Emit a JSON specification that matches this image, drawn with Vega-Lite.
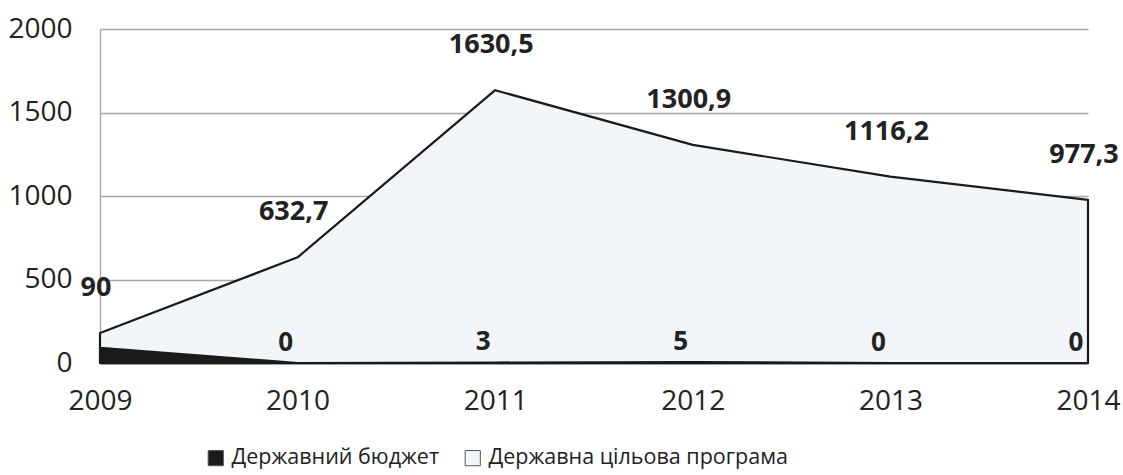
{
  "$schema": "https://vega.github.io/schema/vega-lite/v6.json",
  "width": 988,
  "height": 334,
  "autosize": {"type": "none"},
  "padding": {"left": 100, "top": 29, "right": 35, "bottom": 112},
  "config": {
    "locale": {"number": {"decimal": ",", "thousands": " ", "grouping": [3], "currency": ["", ""]}},
    "view": {"stroke": null},
    "font": "Open Sans"
  },
  "data": {
    "values": [
      {"year": 2009, "series": "Державний бюджет", "ord": 1, "value": 90},
      {"year": 2010, "series": "Державний бюджет", "ord": 1, "value": 0},
      {"year": 2011, "series": "Державний бюджет", "ord": 1, "value": 3},
      {"year": 2012, "series": "Державний бюджет", "ord": 1, "value": 5},
      {"year": 2013, "series": "Державний бюджет", "ord": 1, "value": 0},
      {"year": 2014, "series": "Державний бюджет", "ord": 1, "value": 0},
      {"year": 2009, "series": "Державна цільова програма", "ord": 2, "value": 90},
      {"year": 2010, "series": "Державна цільова програма", "ord": 2, "value": 632.7},
      {"year": 2011, "series": "Державна цільова програма", "ord": 2, "value": 1630.5},
      {"year": 2012, "series": "Державна цільова програма", "ord": 2, "value": 1300.9},
      {"year": 2013, "series": "Державна цільова програма", "ord": 2, "value": 1116.2},
      {"year": 2014, "series": "Державна цільова програма", "ord": 2, "value": 977.3}
    ]
  },
  "transform": [
    {"stack": "value", "groupby": ["year"], "sort": [{"field": "ord", "order": "ascending"}], "as": ["v0", "v1"]}
  ],
  "encoding": {
    "x": {
      "field": "year",
      "type": "quantitative",
      "scale": {"domain": [2009, 2014], "nice": false, "zero": false},
      "axis": {
        "values": [2009, 2010, 2011, 2012, 2013, 2014],
        "format": "d",
        "title": null,
        "labelFontSize": 28,
        "labelColor": "#222222",
        "ticks": false,
        "grid": false,
        "domainColor": "#595959",
        "domainWidth": 2,
        "labelPadding": 24,
        "labelFlush": false,
        "labelOverlap": false
      }
    }
  },
  "layer": [
    {
      "mark": {"type": "area", "stroke": "#1a1a1a", "strokeWidth": 2.2, "strokeJoin": "round"},
      "encoding": {
        "y": {
          "field": "v1",
          "type": "quantitative",
          "scale": {"domain": [0, 2000], "nice": false},
          "axis": {
            "values": [0, 500, 1000, 1500, 2000],
            "format": "d",
            "title": null,
            "labelFontSize": 28,
            "labelColor": "#222222",
            "ticks": false,
            "grid": true,
            "gridColor": "#a6a6a6",
            "gridWidth": 1.3,
            "domainColor": "#a6a6a6",
            "domainWidth": 1.3,
            "labelPadding": 28
          }
        },
        "y2": {"field": "v0"},
        "color": {
          "field": "series",
          "type": "nominal",
          "scale": {
            "domain": ["Державний бюджет", "Державна цільова програма"],
            "range": ["#1a1a1a", "#f2f5fa"]
          },
          "legend": {
            "orient": "none",
            "legendX": 105,
            "legendY": 418,
            "direction": "horizontal",
            "title": null,
            "labelFontSize": 21.5,
            "labelColor": "#222222",
            "symbolType": "square",
            "symbolSize": 230,
            "symbolStrokeColor": "#555555",
            "symbolStrokeWidth": 1,
            "columnPadding": 22,
            "labelOffset": 5,
            "labelLimit": 400
          }
        }
      }
    },
    {
      "transform": [{"filter": "datum.ord == 2"}],
      "mark": {"type": "text", "fontWeight": "bold", "fontSize": 27, "color": "#222222", "dy": -45, "dx": -4, "baseline": "middle"},
      "encoding": {
        "y": {"field": "v1", "type": "quantitative"},
        "text": {"field": "value", "type": "quantitative", "format": ".1~f"}
      }
    },
    {
      "transform": [{"filter": "datum.ord == 1 && datum.year > 2009"}],
      "mark": {"type": "text", "fontWeight": "bold", "fontSize": 26, "color": "#222222", "dy": -20, "dx": -12, "baseline": "middle"},
      "encoding": {
        "y": {"field": "v1", "type": "quantitative"},
        "text": {"field": "value", "type": "quantitative", "format": ".1~f"}
      }
    }
  ]
}
